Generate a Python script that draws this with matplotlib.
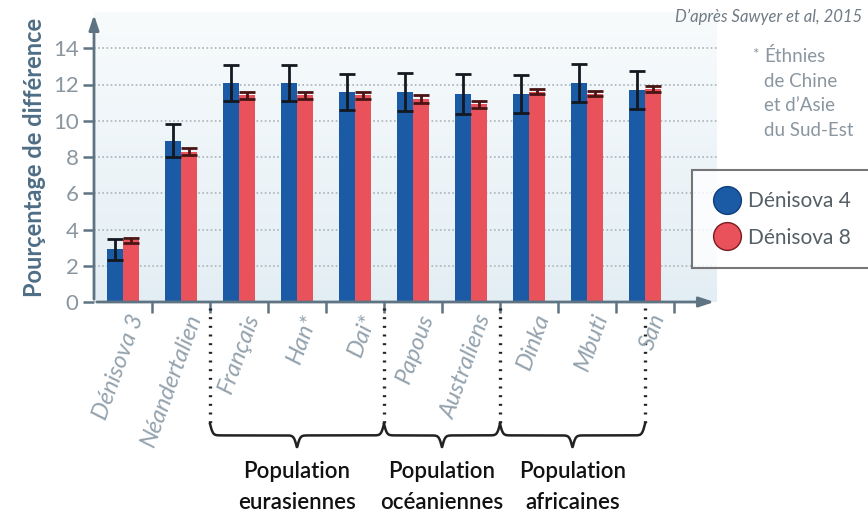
import numpy as np
import matplotlib
matplotlib.use("Agg")
import matplotlib.pyplot as plt
from matplotlib.lines import Line2D
import matplotlib.transforms as mtransforms

# data (Sawyer et al. 2015)
groupes = ["Dénisova 3", "Néandertalien", "Français", "Han*", "Dai*",
           "Papous", "Australiens", "Dinka", "Mbuti", "San"]
denisova4 = [2.9, 8.9, 12.1, 12.1, 11.6, 11.6, 11.5, 11.5, 12.1, 11.7]
denisova4_err = [0.6, 0.9, 1.0, 1.0, 1.0, 1.05, 1.1, 1.05, 1.05, 1.05]
denisova8 = [3.4, 8.3, 11.4, 11.4, 11.4, 11.2, 10.9, 11.6, 11.5, 11.75]
denisova8_err = [0.15, 0.2, 0.2, 0.2, 0.2, 0.2, 0.2, 0.15, 0.15, 0.15]
yticks = [0, 2, 4, 6, 8, 10, 12, 14]
populations = ["Population\neurasiennes", "Population\nocéaniennes", "Population\nafricaines"]
pop_bornes = [(2, 5), (5, 7), (7, 9.5)]

BLEU = "#1b5ba5"
ROUGE = "#e9515b"
AXE = "#5f7483"
GRIS = "#8a96a0"
FONT = ["Lato", "DejaVu Sans"]

fig = plt.figure(figsize=(8.68, 5.23), dpi=100)
ax = fig.add_axes([94 / 868, 1 - 302 / 523, (717 - 94) / 868, 290 / 523])
ax.set_xlim(0, (717 - 94) / 58.0)
ax.set_ylim(0, 16)

# fond bleu clair en dégradé
grad = np.linspace(0, 1, 256).reshape(-1, 1)
ax.imshow(grad, extent=[0, 1, 0, 1], transform=ax.transAxes, aspect="auto",
          cmap=matplotlib.colors.LinearSegmentedColormap.from_list("f", ["#e3eef4", "#f8fbfc"]),
          origin="lower", zorder=0)

for y in yticks[1:]:
    ax.axhline(y, color="#a9b3bb", lw=1.2, ls=(0, (1, 1.5)), zorder=1)

x = np.arange(len(groupes)) + 0.5
w = 0.28
ax.bar(x - w / 2, denisova4, w, color=BLEU, zorder=2)
ax.bar(x + w / 2, denisova8, w, color=ROUGE, zorder=2)
ax.errorbar(x - w / 2, denisova4, yerr=denisova4_err, fmt="none", ecolor="#141820",
            elinewidth=2, capsize=6, capthick=2, zorder=3)
ax.errorbar(x + w / 2, denisova8, yerr=denisova8_err, fmt="none", ecolor="#4a1414",
            elinewidth=2, capsize=6, capthick=2, zorder=3)

for s in ax.spines.values():
    s.set_visible(False)
ax.annotate("", xy=(1, 0), xytext=(0, 0), xycoords="axes fraction",
            arrowprops=dict(arrowstyle="-|>,head_length=0.9,head_width=0.3", color=AXE, lw=2))
ax.annotate("", xy=(0, 1), xytext=(0, 0), xycoords="axes fraction",
            arrowprops=dict(arrowstyle="-|>,head_length=0.9,head_width=0.3", color=AXE, lw=2))

ax.set_yticks(yticks)
ax.set_yticklabels([str(v) for v in yticks], fontsize=16, color=GRIS, family=FONT)
ax.set_xticks(np.arange(1, len(groupes) + 1))
ax.set_xticklabels([])
ax.tick_params(axis="both", direction="out", length=8, width=1.8, color=AXE)
ax.tick_params(axis="y", pad=3)
ax.set_ylabel("Pourçentage de différence", fontsize=17, fontweight="bold",
              color="#4e6e86", labelpad=5, family=FONT)

for xi, nom in zip(x, groupes):
    ax.text(xi + 0.08, -0.5, nom, rotation=70, ha="right", va="top", rotation_mode="anchor",
            fontsize=17, style="italic", color="#93a2ad", family=FONT)

# pointillés, accolades et populations sous l'axe
trans = mtransforms.blended_transform_factory(ax.transData, ax.transAxes)
for xv in [2, 5, 7, 9.5]:
    ax.plot([xv, xv], [-0.02, -0.43], transform=trans, color="#222222",
            lw=2.4, ls=(0, (0.6, 2.0)), clip_on=False)


def accolade(x0, x1, y_haut, h):
    xs = np.linspace(x0, x1, 400)
    mid = (x0 + x1) / 2
    beta = 40.0
    half = xs[xs <= mid]
    yh = 1 / (1 + np.exp(-beta * (half - half[0]))) + 1 / (1 + np.exp(-beta * (half - half[-1])))
    ys = np.concatenate([yh, yh[::-1]])
    xs = np.concatenate([half, (x0 + x1) - half[::-1]])
    ys = y_haut - (ys - ys.min()) / (ys.max() - ys.min()) * h
    return xs, ys


for (x0, x1), txt in zip(pop_bornes, populations):
    bx, by = accolade(x0, x1, -0.42, 0.08)
    ax.plot(bx, by, transform=trans, color="#222222", lw=1.8, clip_on=False)
    ax.text((x0 + x1) / 2, -0.55, txt, transform=trans, ha="center", va="top",
            fontsize=16, fontweight="semibold", color="#111111", linespacing=1.55, family=FONT)

fig.text(862 / 868, 1 - 17 / 523, "D’après Sawyer et al, 2015", ha="right", va="center",
         fontsize=12, style="italic", color="#6f7b85", family=FONT)
fig.text(752 / 868, 1 - 48 / 523, "*", ha="left", va="top", fontsize=11, color=GRIS, family=FONT)
fig.text(764 / 868, 1 - 47 / 523, "Éthnies\nde Chine\net d’Asie\ndu Sud-Est", ha="left", va="top",
         fontsize=13.5, color=GRIS, linespacing=1.55, family=FONT)

handles = [Line2D([], [], ls="none", marker="o", ms=20, color=BLEU, mec="#0e3e78", mew=1),
           Line2D([], [], ls="none", marker="o", ms=20, color=ROUGE, mec="#7a1a1f", mew=1)]
leg = fig.legend(handles, ["Dénisova 4", "Dénisova 8"], loc="upper left",
                 bbox_to_anchor=(692 / 868, 1 - 170 / 523), borderaxespad=0, fancybox=False,
                 frameon=True, edgecolor="#555555", handletextpad=0.3, borderpad=1.0,
                 handlelength=1.4, labelspacing=0.8, prop={"family": FONT, "size": 15},
                 labelcolor="#555f66")
leg.get_frame().set_linewidth(1.5)

fig.savefig("out.png", dpi=100)
